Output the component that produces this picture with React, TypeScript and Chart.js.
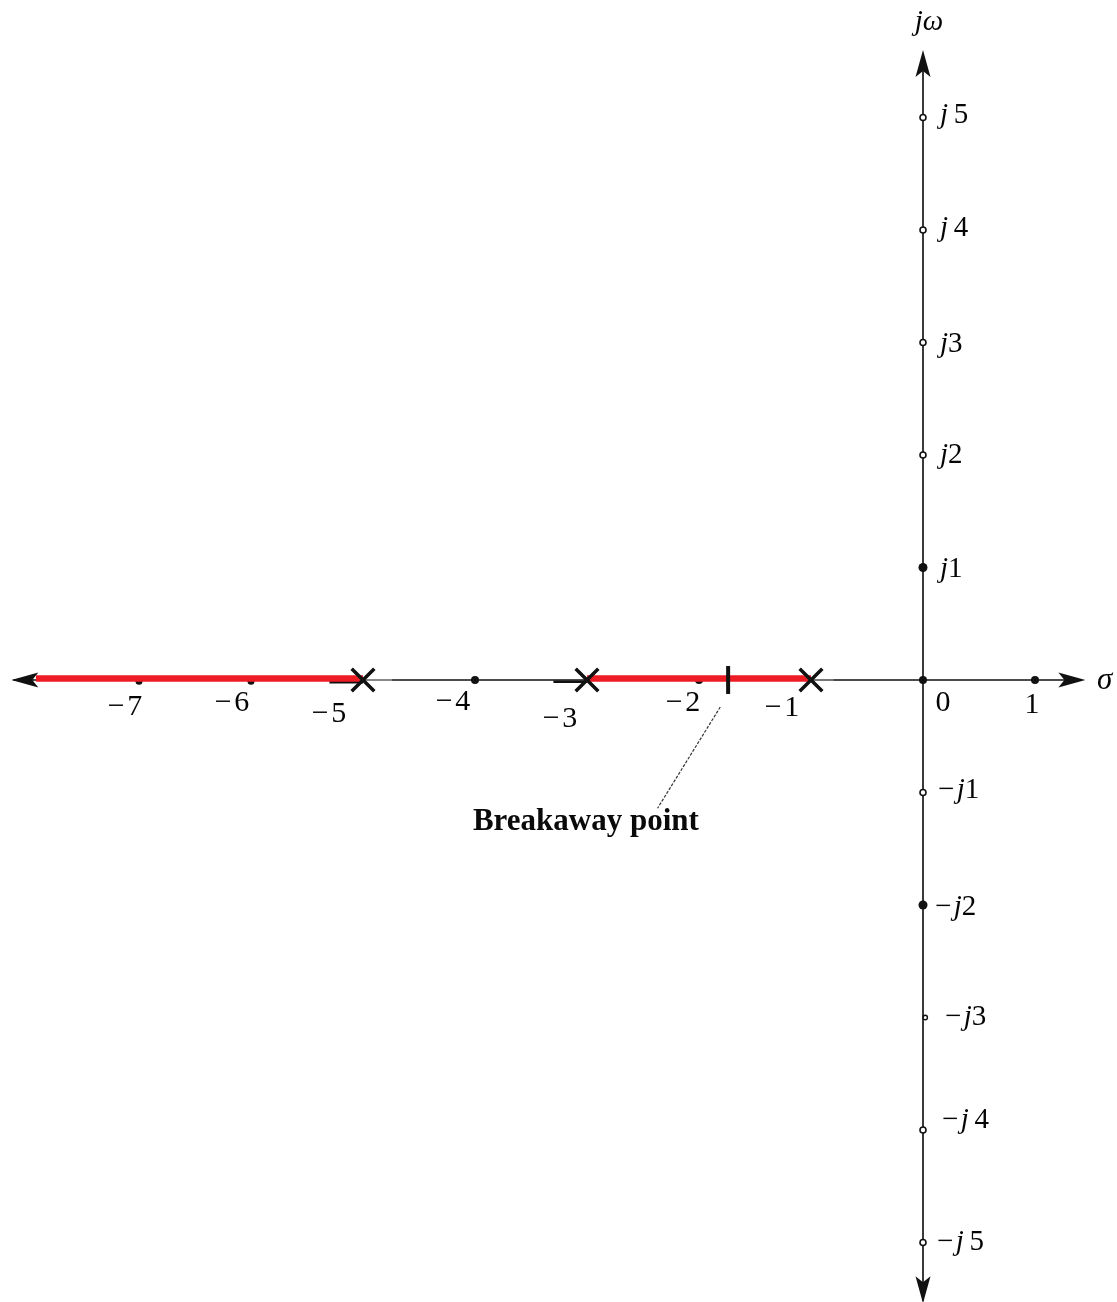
import React, { useEffect, useRef } from 'react';
import { Chart, registerables } from 'chart.js';

Chart.register(...registerables);

const W = 1117;
const H = 1302;

// ---- data (s-plane values) ----
const poles = [-5, -3, -1];
const breakawayPoint = -1.74;
const locusSegmentA = [-7.92, -5];
const locusSegmentB = [-3, -1];
const realAxisRange = [-8.12, 1.42];
const imagAxisRange = [-5.52, 5.55];
const realTickValues = [-7, -6, -5, -4, -3, -2, -1, 0, 1];
const realTickLabels = ['−7', '−6', '−5', '−4', '−3', '−2', '−1', '0', '1'];
const imagTickValues = [5, 4, 3, 2, 1, -1, -2, -3, -4, -5];
const imagTickLabels = ['j 5', 'j 4', 'j3', 'j2', 'j1', '−j1', '−j2', '−j3', '−j 4', '−j 5'];
const filledRealTicks = [-4, -2, 0, 1];
const minorRealTicks = [-7, -6];
const filledImagTicks = [1, -2];
const hollowImagTicks = [5, 4, 3, 2, -1, -4, -5];
const minorImagTicks = [-3];
const leaderLineX = [-1.81, -2.37];
const leaderLineY = [-0.24, -1.14];
const annotationText = 'Breakaway point';
const annotationAt = [-3.01, -1.26];
const realAxisName = 'σ';
const imagAxisName = 'jω';

// ---- layout (pixel nudges for labels) ----
const realLabelDx = [-14, -19, -34, -22, -27, -16, -29, 20, -3];
const realLabelDy = [27, 23, 34, 22, 39, 23, 28, 23, 25];
const imagLabelDx = [17, 17, 17, 17, 17, 15, 12, 22, 19, 14];
const imagLabelDy = [-2, -2, 2, 0, 2, -2, 2, 0, -10, 0];

const FONT = '"Liberation Serif", "Times New Roman", serif';

function drawRich(ctx: CanvasRenderingContext2D, text: string, x: number, y: number, align: 'left' | 'center', size: number) {
  const chars = Array.from(text);
  const fontFor = (c: string) => (/[jωσ]/.test(c) ? `italic ${size}px ${FONT}` : `${size}px ${FONT}`);
  const widths = chars.map((c) => {
    ctx.font = fontFor(c);
    if (c === ' ') return size * 0.2;
    if (c === '−') return ctx.measureText(c).width + size * 0.08;
    return ctx.measureText(c).width;
  });
  const total = widths.reduce((a, b) => a + b, 0);
  let cx = align === 'center' ? x - total / 2 : x;
  ctx.textAlign = 'left';
  ctx.textBaseline = 'middle';
  chars.forEach((c, i) => {
    ctx.font = fontFor(c);
    if (c !== ' ') ctx.fillText(c, cx, y);
    cx += widths[i];
  });
}

function drawArrow(ctx: CanvasRenderingContext2D, x: number, y: number, dir: string) {
  const len = 27;
  const half = 7.5;
  const notch = 6;
  const ang = dir === 'left' ? Math.PI : dir === 'right' ? 0 : dir === 'up' ? -Math.PI / 2 : Math.PI / 2;
  ctx.save();
  ctx.translate(x, y);
  ctx.rotate(ang);
  ctx.beginPath();
  ctx.moveTo(0, 0);
  ctx.lineTo(-len, -half);
  ctx.lineTo(-len + notch, 0);
  ctx.lineTo(-len, half);
  ctx.closePath();
  ctx.fillStyle = '#111';
  ctx.fill();
  ctx.restore();
}

const overlayPlugin = {
  id: 'rootLocusOverlay',
  afterDatasetsDraw(chart: any) {
    const ctx: CanvasRenderingContext2D = chart.ctx;
    const xs = chart.scales.x;
    const ys = chart.scales.y;
    const px = (v: number) => xs.getPixelForValue(v);
    const py = (v: number) => ys.getPixelForValue(v);
    ctx.save();
    drawArrow(ctx, px(realAxisRange[0] - 0.02), py(0), 'left');
    drawArrow(ctx, px(realAxisRange[1] + 0.03), py(0), 'right');
    drawArrow(ctx, px(0), py(imagAxisRange[1] + 0.05), 'up');
    drawArrow(ctx, px(0), py(imagAxisRange[0] - 0.02), 'down');

    ctx.fillStyle = '#050505';
    realTickValues.forEach((v, i) => {
      drawRich(ctx, realTickLabels[i], px(v) + realLabelDx[i], py(0) + realLabelDy[i], 'center', 30);
    });
    imagTickValues.forEach((v, i) => {
      drawRich(ctx, imagTickLabels[i], px(0) + imagLabelDx[i], py(v) + imagLabelDy[i], 'left', 29);
    });

    drawRich(ctx, realAxisName, px(realAxisRange[1]) + 15, py(0) + 1, 'left', 31);
    drawRich(ctx, imagAxisName, px(0) + 6, 22, 'center', 29);

    ctx.font = `bold 31px ${FONT}`;
    ctx.textAlign = 'center';
    ctx.textBaseline = 'middle';
    ctx.fillStyle = '#0a0a0a';
    ctx.fillText(annotationText, px(annotationAt[0]), py(annotationAt[1]), 226);
    ctx.restore();
  },
};

export default function App() {
  const canvasRef = useRef<HTMLCanvasElement | null>(null);

  useEffect(() => {
    const canvas = canvasRef.current;
    if (!canvas) return;
    const xMin = -923 / 112;
    const xMax = (W - 923) / 112;
    const yMax = 680 / 112.5;
    const yMin = -(H - 680) / 112.5;

    const pts = (xsArr: number[], y: number) => xsArr.map((x) => ({ x, y }));

    const chart = new Chart(canvas, {
      type: 'scatter',
      data: {
        datasets: [
          {
            label: 'poles',
            data: pts(poles, 0),
            pointStyle: 'crossRot',
            pointRadius: 16,
            pointBorderWidth: 3.5,
            borderColor: '#111',
            backgroundColor: '#111',
            showLine: false,
            order: 1,
          } as any,
          {
            label: 'breakaway',
            data: [{ x: breakawayPoint, y: 0 }],
            pointStyle: 'line',
            rotation: 90,
            pointRadius: 14,
            pointBorderWidth: 4,
            borderColor: '#111',
            showLine: false,
            order: 2,
          } as any,
          {
            label: 'locusA',
            data: [
              { x: locusSegmentA[0], y: 0.013 },
              { x: locusSegmentA[1], y: 0.013 },
            ],
            showLine: true,
            borderColor: '#ed1c24',
            borderWidth: 6.5,
            pointRadius: 0,
            order: 3,
          },
          {
            label: 'locusB',
            data: [
              { x: locusSegmentB[0], y: 0.013 },
              { x: locusSegmentB[1], y: 0.013 },
            ],
            showLine: true,
            borderColor: '#ed1c24',
            borderWidth: 6.5,
            pointRadius: 0,
            order: 3,
          },
          {
            label: 'stubA',
            data: [
              { x: poles[0] - 0.3, y: -0.02 },
              { x: poles[0], y: -0.02 },
            ],
            showLine: true,
            borderColor: '#111',
            borderWidth: 2.5,
            pointRadius: 0,
            order: 4,
          },
          {
            label: 'stubB',
            data: [
              { x: poles[1] - 0.3, y: -0.015 },
              { x: poles[1], y: -0.015 },
            ],
            showLine: true,
            borderColor: '#111',
            borderWidth: 2.5,
            pointRadius: 0,
            order: 4,
          },
          {
            label: 'stubC',
            data: [
              { x: poles[0], y: 0 },
              { x: poles[0] + 0.26, y: 0 },
            ],
            showLine: true,
            borderColor: '#888',
            borderWidth: 2,
            pointRadius: 0,
            order: 4,
          },
          {
            label: 'stubD',
            data: [
              { x: poles[2], y: 0 },
              { x: poles[2] + 0.2, y: 0 },
            ],
            showLine: true,
            borderColor: '#777',
            borderWidth: 2,
            pointRadius: 0,
            order: 4,
          },
          {
            label: 'filledReal',
            data: pts(filledRealTicks, 0),
            pointStyle: 'circle',
            pointRadius: 4,
            pointBorderWidth: 0,
            backgroundColor: '#111',
            borderColor: '#111',
            showLine: false,
            order: 5,
          },
          {
            label: 'minorReal',
            data: pts(minorRealTicks, -0.01),
            pointStyle: 'circle',
            pointRadius: 3.5,
            pointBorderWidth: 0,
            backgroundColor: '#111',
            borderColor: '#111',
            showLine: false,
            order: 5,
          },
          {
            label: 'filledImag',
            data: filledImagTicks.map((y) => ({ x: 0, y })),
            pointStyle: 'circle',
            pointRadius: 4.5,
            pointBorderWidth: 0,
            backgroundColor: '#111',
            borderColor: '#111',
            showLine: false,
            order: 5,
          },
          {
            label: 'hollowImag',
            data: hollowImagTicks.map((y) => ({ x: 0, y })),
            pointStyle: 'circle',
            pointRadius: 3,
            pointBorderWidth: 1.6,
            backgroundColor: '#fff',
            borderColor: '#111',
            showLine: false,
            order: 5,
          },
          {
            label: 'minorImag',
            data: minorImagTicks.map((y) => ({ x: 0.02, y })),
            pointStyle: 'circle',
            pointRadius: 2.2,
            pointBorderWidth: 1.4,
            backgroundColor: '#fff',
            borderColor: '#111',
            showLine: false,
            order: 5,
          },
          {
            label: 'leader',
            data: [
              { x: leaderLineX[0], y: leaderLineY[0] },
              { x: leaderLineX[1], y: leaderLineY[1] },
            ],
            showLine: true,
            borderColor: '#333',
            borderWidth: 1.2,
            borderDash: [3, 1.5],
            pointRadius: 0,
            order: 6,
          },
          {
            label: 'realAxis',
            data: [
              { x: realAxisRange[0], y: 0 },
              { x: realAxisRange[1], y: 0 },
            ],
            showLine: true,
            borderColor: '#111',
            borderWidth: 1.6,
            pointRadius: 0,
            order: 7,
          },
          {
            label: 'imagAxis',
            data: [
              { x: 0, y: imagAxisRange[1] },
              { x: 0, y: imagAxisRange[0] },
            ],
            showLine: true,
            borderColor: '#3a3a3a',
            borderWidth: 2,
            pointRadius: 0,
            order: 7,
          },
        ],
      },
      options: {
        animation: false,
        responsive: false,
        devicePixelRatio: 1,
        layout: { padding: 0, autoPadding: false },
        plugins: {
          legend: { display: false },
          tooltip: { enabled: false },
          title: { display: false },
        },
        events: [],
        scales: {
          x: { type: 'linear', min: xMin, max: xMax, display: false },
          y: { type: 'linear', min: yMin, max: yMax, display: false },
        },
      },
      plugins: [overlayPlugin],
    });
    return () => chart.destroy();
  }, []);

  return (
    <div style={{ position: 'absolute', left: 0, top: 0, width: W, height: H, background: '#fff' }}>
      <canvas ref={canvasRef} width={W} height={H} style={{ display: 'block', width: W, height: H }} />
    </div>
  );
}
